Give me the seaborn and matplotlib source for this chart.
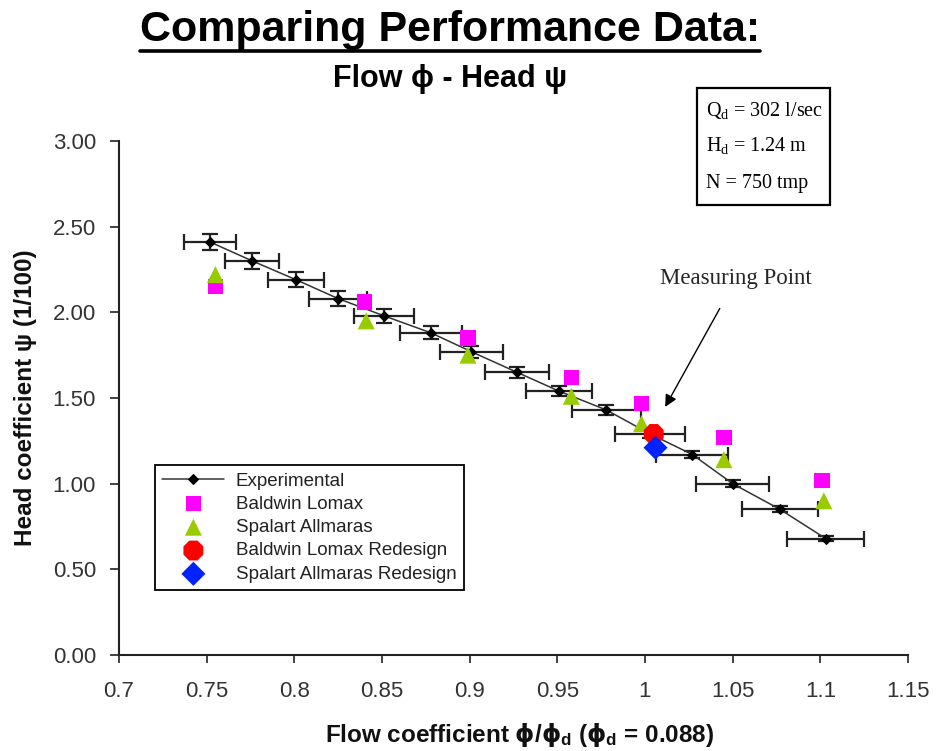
import matplotlib
matplotlib.use("Agg")
import matplotlib.pyplot as plt
import seaborn as sns
import pandas as pd
from matplotlib.lines import Line2D
from matplotlib.patches import Rectangle

# ---------------- data ----------------
exp_flow = [0.752, 0.776, 0.801, 0.825, 0.851, 0.878, 0.901, 0.927, 0.951, 0.978, 1.003, 1.027, 1.050, 1.077, 1.103]
exp_head = [2.41, 2.30, 2.19, 2.08, 1.98, 1.88, 1.77, 1.65, 1.54, 1.43, 1.29, 1.17, 1.00, 0.85, 0.68]
exp_flow_err = [0.015, 0.0155, 0.016, 0.0165, 0.017, 0.0175, 0.018, 0.0185, 0.019, 0.0195, 0.020, 0.0205, 0.021, 0.0215, 0.022]
exp_head_err = [0.048, 0.046, 0.044, 0.042, 0.040, 0.038, 0.035, 0.033, 0.031, 0.029, 0.026, 0.023, 0.020, 0.017, 0.014]

bl_flow = [0.755, 0.840, 0.899, 0.958, 0.998, 1.045, 1.101]
bl_head = [2.15, 2.06, 1.85, 1.62, 1.47, 1.27, 1.02]

sa_flow = [0.755, 0.841, 0.899, 0.958, 0.998, 1.045, 1.102]
sa_head = [2.22, 1.95, 1.75, 1.51, 1.35, 1.14, 0.90]

blr_flow = [1.005]
blr_head = [1.29]
sar_flow = [1.006]
sar_head = [1.21]

x_ticks = [0.7, 0.75, 0.8, 0.85, 0.9, 0.95, 1.0, 1.05, 1.1, 1.15]
x_tick_labels = ["0.7", "0.75", "0.8", "0.85", "0.9", "0.95", "1", "1.05", "1.1", "1.15"]
y_ticks = [0.0, 0.5, 1.0, 1.5, 2.0, 2.5, 3.0]
y_tick_labels = ["0.00", "0.50", "1.00", "1.50", "2.00", "2.50", "3.00"]

series_names = ["Experimental", "Baldwin Lomax", "Spalart Allmaras",
                "Baldwin Lomax Redesign", "Spalart Allmaras Redesign"]
box_lines = ["Q$_{d}$ = 302 l/sec", "H$_{d}$ = 1.24 m", "N = 750 tmp"]

# ---------------- style ----------------
sns.set_style("ticks")
plt.rcParams["font.family"] = ["Liberation Sans", "DejaVu Sans"]
plt.rcParams["mathtext.fontset"] = "custom"
plt.rcParams["mathtext.bf"] = "DejaVu Sans:bold"
plt.rcParams["mathtext.default"] = "regular"

fig = plt.figure(figsize=(9.36, 7.51), dpi=100, facecolor="white")
ax = fig.add_axes([0.1271, 0.1278, 0.8430, 0.6845])
ax.set_facecolor("white")

# error bars + experimental line
ax.errorbar(exp_flow, exp_head, xerr=exp_flow_err, yerr=exp_head_err, fmt="none",
            ecolor="#222222", elinewidth=1.6, capsize=6, capthick=1.6, zorder=2)
sns.lineplot(x=exp_flow, y=exp_head, ax=ax, sort=False, errorbar=None,
             color="#333333", linewidth=1.1, marker="D", markersize=5.5,
             markerfacecolor="black", markeredgecolor="black",
             label=series_names[0], zorder=3)

sns.scatterplot(x=bl_flow, y=bl_head, ax=ax, marker="s", s=120, color="#FF00FF",
                edgecolor="none", label=series_names[1], zorder=4)
sns.scatterplot(x=sa_flow, y=sa_head, ax=ax, marker="^", s=150, color="#99CC00",
                edgecolor="none", label=series_names[2], zorder=5)
sns.scatterplot(x=blr_flow, y=blr_head, ax=ax, marker="8", s=240, color="#FF0000",
                edgecolor="none", label=series_names[3], zorder=6)
sns.scatterplot(x=sar_flow, y=sar_head, ax=ax, marker="D", s=150, color="#0022FF",
                edgecolor="none", label=series_names[4], zorder=7)

# axes
ax.set_xlim(0.7, 1.15)
ax.set_ylim(0.0, 3.0)
ax.set_xticks(x_ticks)
ax.set_xticklabels(x_tick_labels)
ax.set_yticks(y_ticks)
ax.set_yticklabels(y_tick_labels)
for s in ["top", "right"]:
    ax.spines[s].set_visible(False)
for s in ["left", "bottom"]:
    ax.spines[s].set_color("#222222")
    ax.spines[s].set_linewidth(1.5)
ax.tick_params(axis="x", direction="out", length=6, width=1.2, pad=13,
               labelsize=16, labelcolor="#333333", color="#222222")
ax.tick_params(axis="y", direction="out", length=6.5, width=1.2, pad=10,
               labelsize=16, labelcolor="#333333", color="#222222")

ax.set_xlabel(r"Flow coefficient $\mathbf{\phi}$/$\mathbf{\phi}_{d}$ ($\mathbf{\phi}_{d}$ = 0.088)",
              fontsize=17.5, fontweight="bold", color="#111111")
ax.xaxis.set_label_coords(0.508, -0.156)
ax.xaxis.label.set_verticalalignment("center")
ax.set_ylabel("Head coefficient ψ (1/100)", fontsize=17.5, fontweight="bold", color="#111111")
ax.yaxis.set_label_coords(-0.1185, 0.5)
ax.yaxis.label.set_verticalalignment("center")

# legend
leg = ax.legend(loc="lower left", bbox_to_anchor=(0.0456, 0.126), borderaxespad=0,
                frameon=True, fancybox=False, edgecolor="black", framealpha=1,
                fontsize=13.5, handlelength=3.3, handletextpad=0.6, labelspacing=0.33,
                borderpad=0.4)
leg.get_frame().set_linewidth(1.3)
for t in leg.get_texts():
    t.set_color("#222222")

# annotation
ax.annotate("Measuring Point", xy=(1.0115, 1.448), xytext=(1.052, 2.195),
            fontsize=16.5, family="Liberation Serif", ha="center", va="center",
            arrowprops=dict(arrowstyle="-|>", color="black", lw=1.0,
                            mutation_scale=18, shrinkA=13, shrinkB=0))

# titles
title = fig.text(0.4808, 0.960, "Comparing Performance Data:", fontsize=31,
                 fontweight="bold", ha="center", va="center", color="black")
fig.text(0.4808, 0.895, "Flow ϕ - Head ψ", fontsize=22, fontweight="bold",
         ha="center", va="center", color="black")

# info box
fig.add_artist(Rectangle((0.7447, 0.727), 0.1421, 0.1558, transform=fig.transFigure,
                         facecolor="white", edgecolor="black", linewidth=1.6))
for yy, txt in zip([0.8535, 0.8056, 0.7563], box_lines):
    fig.text(0.7543, yy, txt, fontsize=14.5, family="Liberation Serif",
             ha="left", va="center", color="black")

# underline of the main title
fig.canvas.draw()
bb = title.get_window_extent()
W, H = fig.canvas.get_width_height()
uy = 1 - 50.5 / 751
fig.add_artist(Line2D([bb.x0 / W, bb.x1 / W], [uy, uy], transform=fig.transFigure,
                      color="black", linewidth=2.6))

fig.savefig("out.png", dpi=100, facecolor="white")
